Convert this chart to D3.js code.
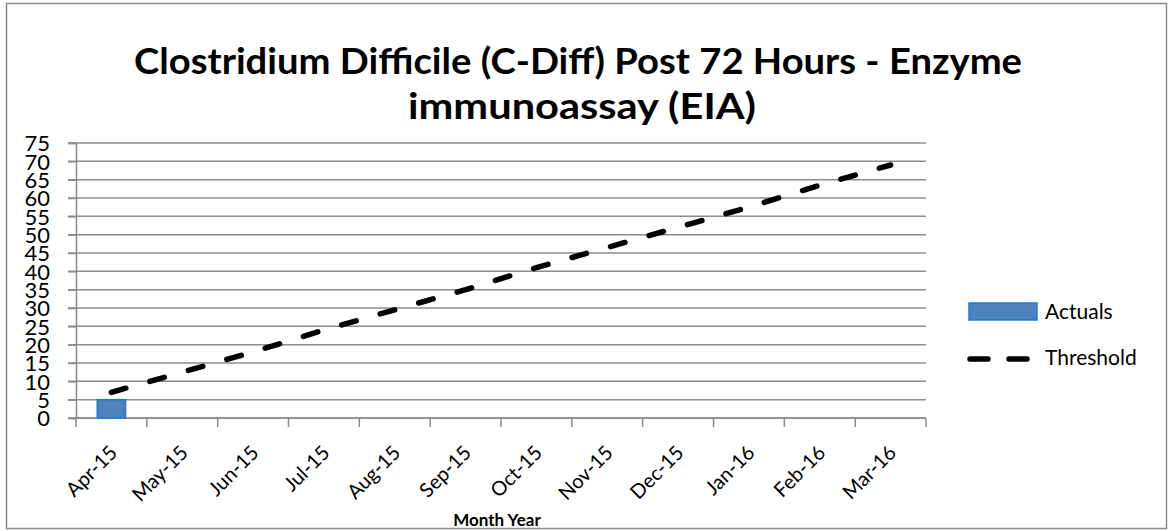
<!DOCTYPE html>
<html lang="en">
<head>
    <meta charset="UTF-8">
    <title>C-Diff Post 72 Hours - EIA</title>
    <script src="https://d3js.org/d3.v7.min.js"></script>
    <style>
        body { margin: 0; background: #fff; }
        svg { display: block; font-family: Lato, "Open Sans", sans-serif; }
    </style>
</head>
<body>
    <div id="chart"></div>
    <script>
        // chart data
        const months = ["Apr-15", "May-15", "Jun-15", "Jul-15", "Aug-15", "Sep-15",
                        "Oct-15", "Nov-15", "Dec-15", "Jan-16", "Feb-16", "Mar-16"];
        const actuals = [5, null, null, null, null, null, null, null, null, null, null, null];
        const threshold = [7, 12.5, 18, 24, 29.5, 35, 41, 46.5, 52, 57.5, 63.5, 69];
        const yTicks = [0, 5, 10, 15, 20, 25, 30, 35, 40, 45, 50, 55, 60, 65, 70, 75];

        const width = 1170, height = 531;
        const plot = { left: 76, right: 926, top: 143, bottom: 418 };

        const svg = d3.select("#chart").append("svg")
            .attr("width", width)
            .attr("height", height);

        // outer chart border
        svg.append("rect")
            .attr("x", 6.5).attr("y", 3.5)
            .attr("width", 1160).attr("height", 525)
            .attr("fill", "#fff")
            .attr("stroke", "#8c8c8c")
            .attr("stroke-width", 1.5);

        // title
        const title = svg.append("g")
            .attr("font-weight", "bold")
            .attr("font-size", 36)
            .attr("text-anchor", "middle");
        title.append("text")
            .attr("x", 578).attr("y", 74)
            .attr("textLength", 888).attr("lengthAdjust", "spacingAndGlyphs")
            .text("Clostridium Difficile (C-Diff) Post 72 Hours - Enzyme");
        title.append("text")
            .attr("x", 582).attr("y", 119)
            .attr("textLength", 348).attr("lengthAdjust", "spacingAndGlyphs")
            .text("immunoassay (EIA)");

        const x = d3.scaleBand().domain(months).range([plot.left, plot.right]).padding(0);
        const y = d3.scaleLinear().domain([0, 75]).range([plot.bottom, plot.top]);

        // gridlines
        svg.append("g").selectAll("line")
            .data(yTicks)
            .join("line")
            .attr("x1", plot.left - 8).attr("x2", plot.right)
            .attr("y1", d => y(d)).attr("y2", d => y(d))
            .attr("stroke", "#8c8c8c")
            .attr("stroke-width", 1.5);

        // y axis
        const yAxis = svg.append("g")
            .attr("transform", `translate(${plot.left},0)`)
            .call(d3.axisLeft(y).tickValues(yTicks).tickSize(8).tickPadding(18));
        yAxis.select(".domain").attr("stroke", "#8c8c8c").attr("stroke-width", 1.5);
        yAxis.selectAll(".tick line").attr("stroke", "#8c8c8c").attr("stroke-width", 1.5);
        yAxis.selectAll(".tick text")
            .attr("font-family", "Lato, sans-serif")
            .attr("font-size", 22)
            .attr("fill", "#000")
            .attr("dy", "0.36em");

        // x axis: ticks between categories
        const xAxis = svg.append("g");
        xAxis.append("line")
            .attr("x1", plot.left).attr("x2", plot.right)
            .attr("y1", plot.bottom).attr("y2", plot.bottom)
            .attr("stroke", "#8c8c8c").attr("stroke-width", 1.5);
        const bounds = months.map(m => x(m)).concat([plot.right]);
        xAxis.selectAll("line.tick")
            .data(bounds)
            .join("line")
            .attr("class", "tick")
            .attr("x1", d => d).attr("x2", d => d)
            .attr("y1", plot.bottom).attr("y2", plot.bottom + 9)
            .attr("stroke", "#8c8c8c").attr("stroke-width", 1.5);
        xAxis.selectAll("text")
            .data(months)
            .join("text")
            .attr("transform", d => `translate(${x(d) + x.bandwidth() / 2 + 2},${plot.bottom + 31}) rotate(-45)`)
            .attr("text-anchor", "end")
            .attr("font-size", 20)
            .attr("dy", "0.35em")
            .text(d => d);

        svg.append("text")
            .attr("x", 497).attr("y", 526)
            .attr("text-anchor", "middle")
            .attr("font-weight", "bold")
            .attr("font-size", 17)
            .text("Month Year");

        // bars
        const barW = x.bandwidth() / 2.5;
        svg.append("g").selectAll("rect")
            .data(months.map((m, i) => ({ m, v: actuals[i] })).filter(d => d.v != null))
            .join("rect")
            .attr("x", d => x(d.m) + (x.bandwidth() - barW) / 2)
            .attr("y", d => y(d.v))
            .attr("width", barW)
            .attr("height", d => y(0) - y(d.v))
            .attr("fill", "#4F81BD")
            .attr("stroke", "#1C7CD5")
            .attr("stroke-width", 1.5);

        // threshold line
        const line = d3.line()
            .x((d, i) => x(months[i]) + x.bandwidth() / 2)
            .y(d => y(d));
        svg.append("path")
            .datum(threshold)
            .attr("d", line)
            .attr("fill", "none")
            .attr("stroke", "#000")
            .attr("stroke-width", 5.5)
            .attr("stroke-linecap", "round")
            .attr("stroke-dasharray", "15,25");

        // legend
        const legend = svg.append("g").attr("font-size", 21);
        legend.append("rect")
            .attr("x", 969).attr("y", 303)
            .attr("width", 68).attr("height", 17)
            .attr("fill", "#4F81BD")
            .attr("stroke", "#1C7CD5")
            .attr("stroke-width", 1.5);
        legend.append("text")
            .attr("x", 1045).attr("y", 312).attr("dy", "0.35em")
            .text("Actuals");
        legend.append("line")
            .attr("x1", 970).attr("x2", 1030)
            .attr("y1", 359).attr("y2", 359)
            .attr("stroke", "#000")
            .attr("stroke-width", 5.5)
            .attr("stroke-linecap", "round")
            .attr("stroke-dasharray", "18,21");
        legend.append("text")
            .attr("x", 1045).attr("y", 358).attr("dy", "0.35em")
            .text("Threshold");
    </script>
</body>
</html>
